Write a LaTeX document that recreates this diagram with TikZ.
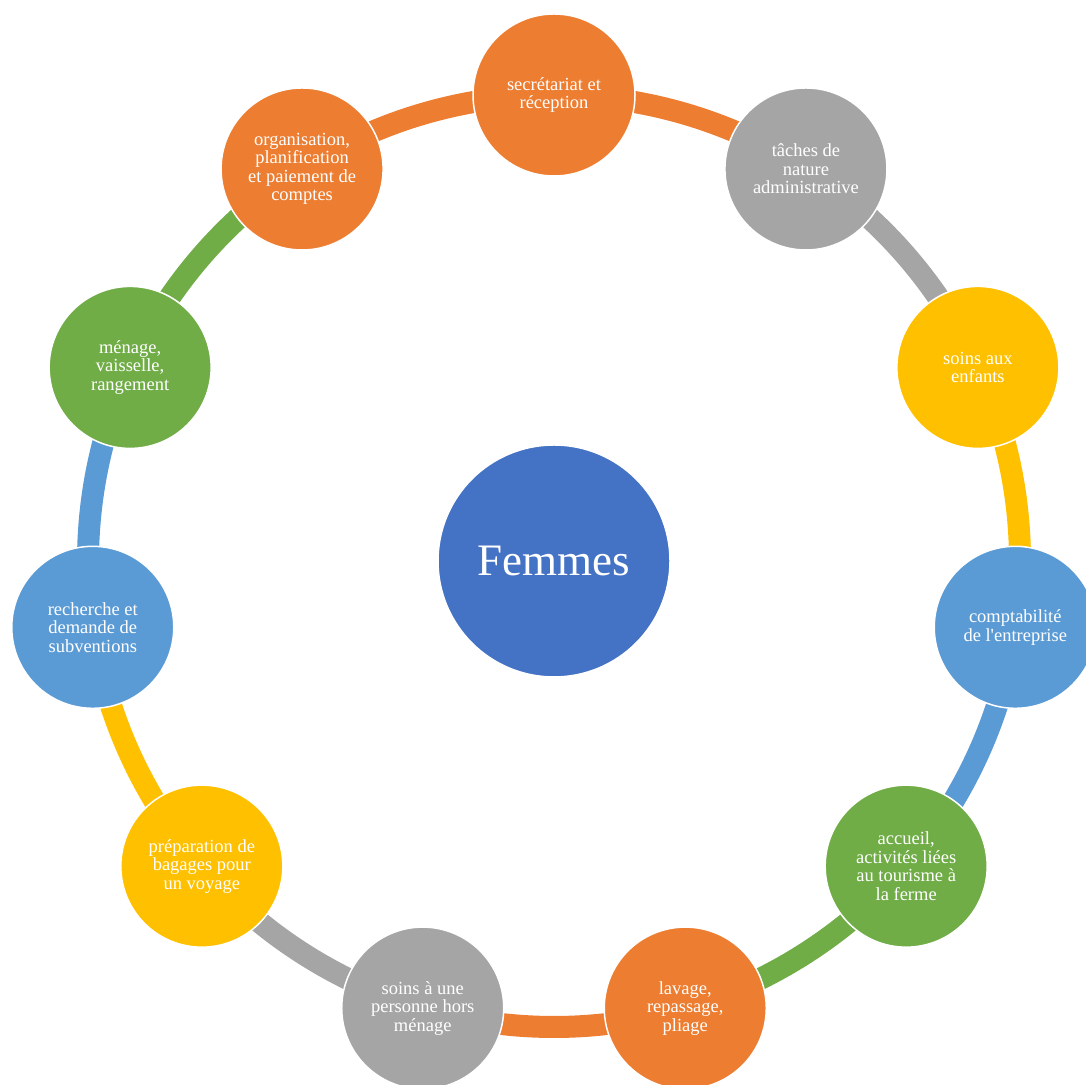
\documentclass[tikz,border=0pt]{standalone}
\usepackage{fontspec}
\setmainfont{Liberation Serif}
\definecolor{orng}{HTML}{ED7D31}
\definecolor{gry}{HTML}{A5A5A5}
\definecolor{yllw}{HTML}{FFC000}
\definecolor{blu}{HTML}{5B9BD5}
\definecolor{grn}{HTML}{70AD47}
\definecolor{mainblue}{HTML}{4472C4}
\begin{document}
\begin{tikzpicture}[x=1pt,y=1pt,
  band/.style={line width=22pt},
  item/.style={circle, draw=white, line width=1.5pt, minimum size=162pt, inner sep=0pt,
    text=white, align=center, font=\fontsize{18.5pt}{18.5pt}\selectfont},
  hub/.style={circle, draw=white, line width=1.5pt, fill=mainblue, minimum size=232pt, inner sep=0pt,
    text=white, font=\fontsize{45pt}{45pt}\selectfont}]
\useasboundingbox (0,0) rectangle (1086,1084);
\clip (0,0) rectangle (1086,1084);
\coordinate (c) at (554,523);
% ring bands
\foreach \i/\col in {0/orng,1/gry,2/yllw,3/blu,4/grn,5/orng,6/gry,7/yllw,8/blu,9/grn,10/orng}{
  \pgfmathsetmacro\angA{90-\i*360/11-9.5}
  \pgfmathsetmacro\angB{90-(\i+1)*360/11+9.5}
  \draw[band, draw=\col] (c) ++(\angA:466pt) arc[start angle=\angA, end angle=\angB, radius=466pt];
}
% centre
\node[hub] (hub) at (c) {Femmes};
% items
\node[item, fill=orng] (n0) at ([shift={(90:466pt)}]c) {secrétariat et\\réception};
\node[item, fill=gry] (n1) at ([shift={(57.2727:466pt)}]c) {tâches de\\nature\\administrative};
\node[item, fill=yllw] (n2) at ([shift={(24.5455:466pt)}]c) {soins aux\\enfants};
\node[item, fill=blu] (n3) at ([shift={(-8.1818:466pt)}]c) {comptabilité\\de l\textquotesingle entreprise};
\node[item, fill=grn] (n4) at ([shift={(-40.9091:466pt)}]c) {accueil,\\activités liées\\au tourisme à\\la ferme};
\node[item, fill=orng] (n5) at ([shift={(-73.6364:466pt)}]c) {lavage,\\repassage,\\pliage};
\node[item, fill=gry] (n6) at ([shift={(-106.3636:466pt)}]c) {soins à une\\personne hors\\ménage};
\node[item, fill=yllw] (n7) at ([shift={(-139.0909:466pt)}]c) {préparation de\\bagages pour\\un voyage};
\node[item, fill=blu] (n8) at ([shift={(-171.8182:466pt)}]c) {recherche et\\demande de\\subventions};
\node[item, fill=grn] (n9) at ([shift={(155.4545:466pt)}]c) {ménage,\\vaisselle,\\rangement};
\node[item, fill=orng] (n10) at ([shift={(122.7273:466pt)}]c) {organisation,\\planification\\et paiement de\\comptes};
\end{tikzpicture}
\end{document}
